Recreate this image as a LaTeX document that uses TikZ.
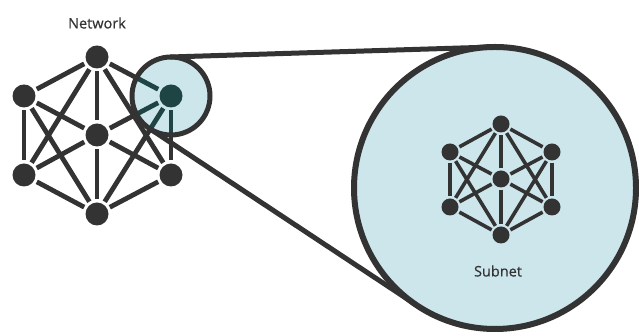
\documentclass[tikz,border=0pt]{standalone}
\usepackage{fontspec}
\setmainfont{Open Sans}
\definecolor{ink}{HTML}{333333}
\definecolor{lensfill}{HTML}{CDE6EB}
\definecolor{teal}{HTML}{1E4444}
\tikzset{
  netnode/.style={circle, fill=ink, inner sep=0pt, minimum size=23pt, outer sep=3pt},
  subnode/.style={circle, fill=ink, inner sep=0pt, minimum size=17pt, outer sep=2.2pt},
  netedge/.style={draw=ink, line width=4.8pt},
  subedge/.style={draw=ink, line width=3.6pt},
  bigcirc/.style={circle, draw=ink, fill=lensfill, line width=6pt, inner sep=0pt, outer sep=0pt, minimum size=282pt},
  lenscirc/.style={circle, fill=lensfill, inner sep=0pt, outer sep=0pt, minimum size=78pt},
  zoomline/.style={draw=ink, line width=5pt},
  label/.style={text=ink, font=\fontsize{14.5}{16}\selectfont\addfontfeature{FakeBold=0.6}}
}
\begin{document}
\begin{tikzpicture}[x=1pt,y=1pt]
\useasboundingbox (0,0) rectangle (639,336);
% big zoom circle
\node[bigcirc] (zoom) at (495,148) {};
% subnet
\node[subnode] (sT)  at (501,212) {};
\node[subnode] (sLU) at (450,184) {};
\node[subnode] (sRU) at (552,184) {};
\node[subnode] (sC)  at (501,157) {};
\node[subnode] (sLL) at (450,129) {};
\node[subnode] (sRL) at (552,129) {};
\node[subnode] (sB)  at (501,101) {};
\foreach \a/\b in {sT/sLU,sT/sRU,sLU/sLL,sRU/sRL,sLL/sB,sRL/sB,sC/sT,sC/sB,sC/sLU,sC/sRU,sC/sLL,sC/sRL,sT/sLL,sT/sRL,sB/sLU,sB/sRU}
  \path[subedge] (\a) -- (\b);
\node[label] (sublabel) at (498,65) {Subnet};
% network
\node[netnode] (T)  at (97,279) {};
\node[netnode] (LU) at (24,240) {};
\node[netnode] (RU) at (171,240) {};
\node[netnode] (C)  at (97,201) {};
\node[netnode] (LL) at (24,161) {};
\node[netnode] (RL) at (171,161) {};
\node[netnode] (B)  at (97,122) {};
\newcommand\netedges[1]{%
  \foreach \a/\b in {T/LU,T/RU,LU/LL,RU/RL,LL/B,RL/B,C/T,C/B,C/LU,C/RU,C/LL,C/RL,T/LL,T/RL,B/LU,B/RU}
    \path[netedge,#1] (\a) -- (\b);}
\netedges{}
\node[label] (netlabel) at (97,313) {Network};
% lens
\node[lenscirc] (lens) at (RU) {};
\begin{scope}
  \clip (lens.center) circle[radius=39pt];
  \netedges{draw=teal}
  \fill[teal] (RU.center) circle[radius=11.5pt];
\end{scope}
% zoom lines
\path[zoomline] (lens.91.78) -- (zoom.91.78);
\path[zoomline] (lens.236.52) -- (zoom.236.52);
\draw[ink, line width=5pt] (lens.center) circle[radius=39pt];
\end{tikzpicture}
\end{document}
